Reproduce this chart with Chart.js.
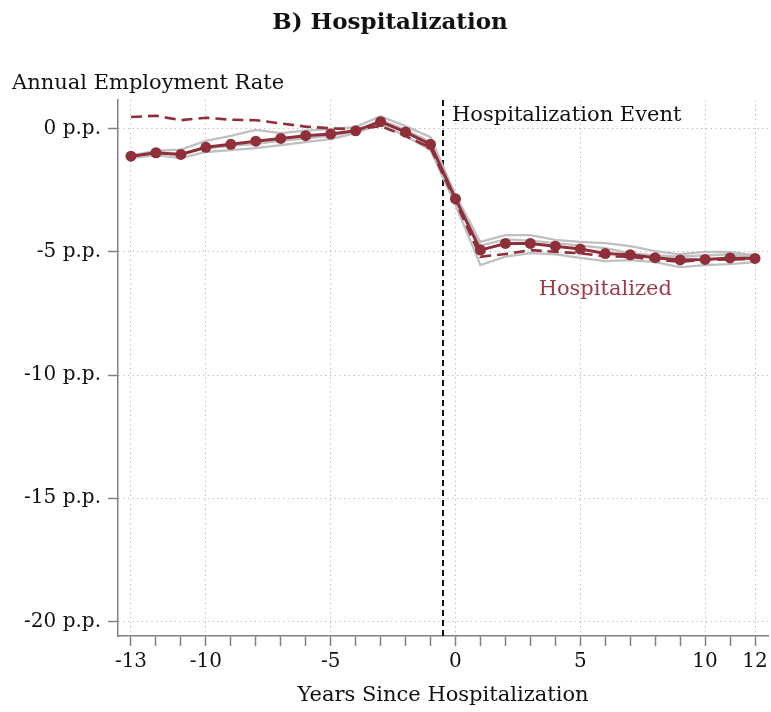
<!DOCTYPE html>
<html>
<head>
<meta charset="utf-8">
<script src="https://cdn.jsdelivr.net/npm/chart.js@4.4.1/dist/chart.umd.min.js"></script>
<style>
  html, body { margin: 0; padding: 0; background: #ffffff; }
  #wrap { width: 771px; height: 712px; position: relative; }
</style>
</head>
<body>
<div id="wrap"><canvas id="c" width="771" height="712"></canvas></div>
<script>
// ---- Data ----
const years = [-13,-12,-11,-10,-9,-8,-7,-6,-5,-4,-3,-2,-1,0,1,2,3,4,5,6,7,8,9,10,11,12];
const hospitalized = [-1.12,-0.98,-1.05,-0.76,-0.64,-0.51,-0.40,-0.29,-0.22,-0.09,0.28,-0.14,-0.64,-2.85,-4.93,-4.66,-4.66,-4.77,-4.89,-5.07,-5.12,-5.24,-5.33,-5.31,-5.25,-5.27];
const dashedSeries = [0.47,0.52,0.34,0.44,0.36,0.34,0.21,0.08,0.01,-0.03,0.10,-0.30,-0.78,-2.95,-5.20,-5.09,-4.93,-5.00,-5.06,-5.18,-5.20,-5.33,-5.40,-5.33,-5.31,-5.29];
const grayUpper = [-1.10,-0.90,-0.85,-0.50,-0.30,-0.05,-0.18,-0.08,-0.02,0.06,0.50,0.10,-0.35,-2.70,-4.60,-4.32,-4.32,-4.52,-4.60,-4.65,-4.77,-4.97,-5.10,-5.00,-5.00,-5.15];
const grayLower = [-1.20,-1.08,-1.20,-0.95,-0.87,-0.79,-0.67,-0.55,-0.43,-0.18,0.18,-0.30,-0.87,-3.10,-5.54,-5.20,-5.05,-5.10,-5.25,-5.38,-5.34,-5.42,-5.62,-5.54,-5.50,-5.42];
const grayMiddle = [-1.15,-1.05,-1.00,-0.80,-0.70,-0.62,-0.50,-0.40,-0.30,-0.10,0.35,-0.05,-0.55,-2.80,-4.75,-4.50,-4.55,-4.65,-4.75,-4.85,-5.05,-5.15,-5.20,-5.15,-5.10,-5.20];
const xTickLabels = [-13,-10,-5,0,5,10,12];
const yTickValues = [0,-5,-10,-15,-20];
const eventYear = -0.5;

const RED = '#8e2f3a';
const GRAY = '#c0c0c0';
const GRID = '#b4b4b4';
const AXIS = '#808080';
const FONT = "'DejaVu Serif', serif";

const toXY = arr => years.map((x, i) => ({x: x, y: arr[i]}));

const textPlugin = {
  id: 'texts',
  beforeDatasetsDraw(chart) {
    const {ctx, scales: {x}, chartArea} = chart;
    const px = x.getPixelForValue(eventYear);
    ctx.save();
    ctx.strokeStyle = '#111';
    ctx.lineWidth = 2;
    ctx.setLineDash([6, 4]);
    ctx.beginPath();
    ctx.moveTo(px, chartArea.top);
    ctx.lineTo(px, chartArea.bottom);
    ctx.stroke();
    ctx.restore();
  },
  afterDraw(chart) {
    const {ctx, scales: {x, y}, chartArea} = chart;
    ctx.save();
    ctx.fillStyle = '#111';
    ctx.textBaseline = 'middle';
    ctx.font = "bold 23px " + FONT;
    ctx.textAlign = 'center';
    ctx.fillText('B) Hospitalization', 390, 23);
    ctx.font = "21px " + FONT;
    ctx.textAlign = 'left';
    ctx.fillText('Annual Employment Rate', 12, 84);
    ctx.fillText('Hospitalization Event', x.getPixelForValue(eventYear) + 9, 116);
    ctx.textAlign = 'center';
    ctx.fillText('Years Since Hospitalization', (chartArea.left + chartArea.right) / 2, 696);
    ctx.fillStyle = '#9a3d49';
    ctx.fillText('Hospitalized', x.getPixelForValue(6), y.getPixelForValue(-6.55));
    ctx.restore();
  }
};

new Chart(document.getElementById('c'), {
  type: 'line',
  data: {
    datasets: [
      {data: toXY(hospitalized), borderColor: RED, backgroundColor: RED, borderWidth: 3, pointRadius: 5.5, pointBorderWidth: 0, pointBackgroundColor: RED, order: 0},
      {data: toXY(dashedSeries), borderColor: RED, borderWidth: 2.6, borderDash: [11, 6], pointRadius: 0, order: 1},
      {data: toXY(grayUpper), borderColor: GRAY, borderWidth: 2.3, pointRadius: 0, order: 2},
      {data: toXY(grayMiddle), borderColor: GRAY, borderWidth: 2.3, pointRadius: 0, order: 2},
      {data: toXY(grayLower), borderColor: GRAY, borderWidth: 2.3, pointRadius: 0, order: 2}
    ]
  },
  options: {
    responsive: false,
    animation: false,
    events: [],
    layout: {autoPadding: false, padding: {top: 100, right: 3, left: 0, bottom: 0}},
    plugins: {legend: {display: false}, tooltip: {enabled: false}, title: {display: false}},
    elements: {line: {tension: 0}},
    scales: {
      x: {
        type: 'linear',
        min: -13.52, max: 12.52,
        afterBuildTicks: s => { s.ticks = years.map(v => ({value: v})); },
        afterFit: s => { s.height = 76; s.paddingRight = 0; s.paddingLeft = 0; },
        ticks: {
          autoSkip: false, maxRotation: 0, padding: 4, color: '#111',
          font: {family: FONT, size: 20},
          callback: v => xTickLabels.includes(v) ? String(v) : ''
        },
        grid: {
          color: c => (c.tick && xTickLabels.includes(c.tick.value)) ? GRID : 'rgba(0,0,0,0)',
          lineWidth: 1, tickLength: 10, tickColor: AXIS, tickWidth: 1.5, drawTicks: true
        },
        border: {display: true, color: AXIS, width: 1.5, dash: [1.2, 3.5]}
      },
      y: {
        type: 'linear',
        min: -20.59, max: 1.16,
        afterBuildTicks: s => { s.ticks = yTickValues.map(v => ({value: v})); },
        afterFit: s => { s.width = 118; s.paddingTop = 0; s.paddingBottom = 0; },
        ticks: {
          padding: 7, color: '#111',
          font: {family: FONT, size: 20},
          callback: v => v + ' p.p.'
        },
        grid: {
          color: GRID, lineWidth: 1, tickLength: 10, tickColor: AXIS, tickWidth: 1.5, drawTicks: true
        },
        border: {display: true, color: AXIS, width: 1.5, dash: [1.2, 3.5]}
      }
    }
  },
  plugins: [textPlugin]
});
</script>
</body>
</html>
